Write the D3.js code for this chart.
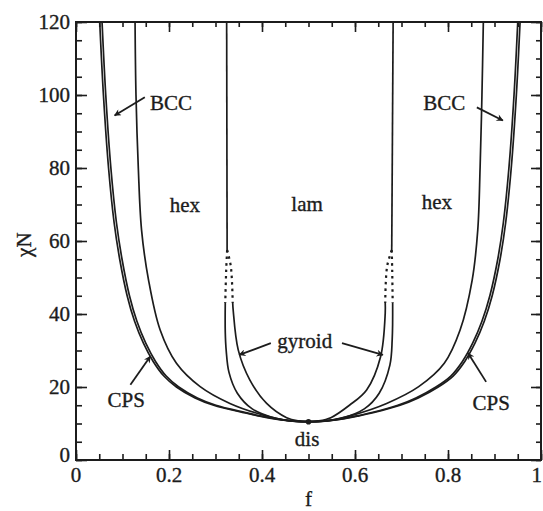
<!DOCTYPE html>
<html>
<head>
<meta charset="utf-8">
<script src="https://cdn.jsdelivr.net/npm/d3@7"></script>
<style>
  html, body { margin: 0; padding: 0; background: #fff; }
  svg { display: block; }
  text { font-family: "Liberation Serif", "Times New Roman", serif; fill: #1c1c1c; stroke: #1c1c1c; stroke-width: 0.35px; }
</style>
</head>
<body>
<svg id="chart" width="543" height="511"></svg>
<script>
// Phase boundaries of a diblock copolymer melt: each boundary is a list of [f, chiN].
const criticalPoint = [0.5, 10.495];

// left half (f < 0.5)
const disCpsLeft = [[0.051,120],[0.059,100],[0.070,80],[0.082,65],[0.094,55],[0.110,45],[0.126,38],[0.145,32],[0.166,27],[0.189,23],[0.216,20],[0.256,17],[0.296,15],[0.360,13],[0.395,12],[0.430,11.2],[0.455,10.8],[0.475,10.6],[0.5,10.495]];
const cpsBccLeft = [[0.056,120],[0.064,100],[0.075,80],[0.087,65],[0.099,55],[0.115,45],[0.131,38],[0.150,32],[0.171,27],[0.194,23],[0.221,20],[0.261,17],[0.301,15],[0.365,13],[0.399,12],[0.433,11.2],[0.457,10.8],[0.476,10.6],[0.5,10.495]];
const bccHexLeft = [[0.127,120],[0.129,100],[0.134,80],[0.141,63],[0.156,49.3],[0.181,35.6],[0.216,26.5],[0.267,20.1],[0.331,15.5],[0.403,12.3],[0.46,10.75],[0.5,10.495]];
const hexLamLeft = [[0.324,120],[0.325,57.5]];
const hexGyrLeftDotted = [[0.325,57.5],[0.323,52],[0.321,43]];
const gyrLamLeftDotted = [[0.325,57.5],[0.333,53],[0.337,43]];
const hexGyrLeft = [[0.321,43],[0.321,35],[0.323,30],[0.329,24],[0.347,18.3],[0.379,14.0],[0.430,11.4],[0.47,10.65],[0.5,10.495]];
const gyrLamLeft = [[0.337,43],[0.338,41.1],[0.349,30.1],[0.374,21.9],[0.410,15.5],[0.453,11.6],[0.48,10.7],[0.5,10.495]];

// right half (f > 0.5)
const disCpsRight = [[0.955,120],[0.947,100],[0.936,80],[0.924,65],[0.912,55],[0.895,45],[0.878,38],[0.858,32],[0.836,27],[0.811,23],[0.779,20],[0.736,17],[0.697,15],[0.641,13],[0.605,12],[0.571,11.2],[0.546,10.8],[0.525,10.6],[0.5,10.495]];
const cpsBccRight = [[0.950,120],[0.942,100],[0.931,80],[0.919,65],[0.907,55],[0.890,45],[0.873,38],[0.853,32],[0.831,27],[0.806,23],[0.774,20],[0.731,17],[0.692,15],[0.636,13],[0.601,12],[0.568,11.2],[0.544,10.8],[0.524,10.6],[0.5,10.495]];
const bccHexRight = [[0.876,120],[0.873,100],[0.869,80],[0.864,63],[0.852,49.3],[0.826,35.6],[0.792,26.5],[0.737,20.1],[0.668,15.5],[0.595,12.3],[0.54,10.75],[0.5,10.495]];
const hexLamRight = [[0.682,120],[0.679,57.5]];
const lamGyrRightDotted = [[0.679,57.5],[0.669,53],[0.665,43]];
const gyrHexRightDotted = [[0.679,57.5],[0.680,52],[0.681,43]];
const lamGyrRight = [[0.665,43],[0.665,40.2],[0.655,28.3],[0.625,19.2],[0.588,15.0],[0.548,11.6],[0.52,10.7],[0.5,10.495]];
const gyrHexRight = [[0.681,43],[0.680,33],[0.675,26],[0.652,18.3],[0.620,14.0],[0.570,11.4],[0.53,10.65],[0.5,10.495]];

const solidBoundaries = [disCpsLeft, cpsBccLeft, bccHexLeft, hexLamLeft, hexGyrLeft, gyrLamLeft,
                         disCpsRight, cpsBccRight, bccHexRight, hexLamRight, lamGyrRight, gyrHexRight];
const dottedBoundaries = [hexGyrLeftDotted, gyrLamLeftDotted, lamGyrRightDotted, gyrHexRightDotted];

// axis ticks
const xMajorTicks = [0, 0.2, 0.4, 0.6, 0.8, 1];
const xTickLabels = ["0", "0.2", "0.4", "0.6", "0.8", "1"];
const xMinorTicks = d3.range(0, 1.0001, 0.05);
const yMajorTicks = [0, 20, 40, 60, 80, 100, 120];
const yTickLabels = ["0", "20", "40", "60", "80", "100", "120"];
const yMinorTicks = d3.range(0, 120.001, 5);

// phase labels: [text, f, chiN]
const phaseLabels = [["hex", 0.234, 68.0], ["lam", 0.497, 68.3], ["hex", 0.776, 68.7],
                     ["gyroid", 0.492, 30.8], ["dis", 0.497, 3.9]];
// labels with arrows: [text, textF, textChiN, anchor, arrowFromF, arrowFromChiN, arrowToF, arrowToChiN]
const arrowLabels = [
  ["BCC", 0.159, 95.9, "start", 0.148, 99.4, 0.083, 94.4],
  ["BCC", 0.747, 95.9, "start", 0.862, 96.6, 0.918, 93.0],
  ["CPS", 0.108, 14.4, "middle", 0.117, 20.6, 0.160, 28.4],
  ["CPS", 0.893, 13.7, "middle", 0.882, 21.4, 0.843, 29.3],
  ["gyroid", null, null, null, 0.419, 32.0, 0.351, 28.8],
  ["gyroid", null, null, null, 0.572, 32.0, 0.660, 28.8]
];

const svg = d3.select("#chart");
const margin = { left: 76, right: 2, top: 22, bottom: 51 };
const W = 543, H = 511;
const x = d3.scaleLinear().domain([0, 1]).range([margin.left, W - margin.right]);
const y = d3.scaleLinear().domain([0, 120]).range([H - margin.bottom, margin.top]);
const ink = "#1c1c1c";

// ticks (all pointing inward)
function drawTicks(axisGen, transform, size, values) {
  const g = svg.append("g").attr("transform", transform)
    .call(axisGen.tickValues(values).tickSize(size).tickFormat(""));
  g.select(".domain").remove();
  g.selectAll("line").attr("stroke", ink).attr("stroke-width", 1.6);
}
const bottomY = y(0), topY = y(120), leftX = x(0), rightX = x(1);
drawTicks(d3.axisBottom(x), `translate(0,${bottomY})`, -6, xMinorTicks);
drawTicks(d3.axisBottom(x), `translate(0,${bottomY})`, -10, xMajorTicks);
drawTicks(d3.axisTop(x), `translate(0,${topY})`, -5, xMinorTicks);
drawTicks(d3.axisTop(x), `translate(0,${topY})`, -10, xMajorTicks);
drawTicks(d3.axisLeft(y), `translate(${leftX},0)`, -6, yMinorTicks);
drawTicks(d3.axisLeft(y), `translate(${leftX},0)`, -11, yMajorTicks);
drawTicks(d3.axisRight(y), `translate(${rightX},0)`, -5, yMinorTicks);
drawTicks(d3.axisRight(y), `translate(${rightX},0)`, -10, yMajorTicks);

// frame
svg.append("rect").attr("x", leftX).attr("y", topY)
  .attr("width", rightX - leftX).attr("height", bottomY - topY)
  .attr("fill", "none").attr("stroke", ink).attr("stroke-width", 2);

// tick labels (the last one sits against the right edge)
svg.append("g").selectAll("text").data(xMajorTicks).join("text")
  .attr("x", d => d === 1 ? W - 1 : x(d)).attr("y", bottomY + 22)
  .attr("text-anchor", d => d === 1 ? "end" : "middle").attr("font-size", 21)
  .text((d, i) => xTickLabels[i]);
svg.append("g").selectAll("text").data(yMajorTicks).join("text")
  .attr("x", leftX - 6).attr("y", d => y(d) + (d === 0 ? 2 : 7))
  .attr("text-anchor", "end").attr("font-size", 21)
  .text((d, i) => yTickLabels[i]);

// axis titles
svg.append("text").attr("x", x(0.5)).attr("y", 506)
  .attr("text-anchor", "middle").attr("font-size", 21).text("f");
svg.append("text").attr("transform", `translate(31,${y(59)}) rotate(-90)`)
  .attr("text-anchor", "middle").attr("font-size", 21).text("χN");

// phase boundaries
const line = d3.line().x(d => x(d[0])).y(d => y(d[1])).curve(d3.curveCatmullRom.alpha(0.5));
svg.append("g").selectAll("path").data(solidBoundaries).join("path")
  .attr("d", line).attr("fill", "none").attr("stroke", ink).attr("stroke-width", 1.7);
svg.append("g").selectAll("path").data(dottedBoundaries).join("path")
  .attr("d", line).attr("fill", "none").attr("stroke", ink).attr("stroke-width", 2.2)
  .attr("stroke-dasharray", "2.5,4");

// critical point
svg.append("circle").attr("cx", x(criticalPoint[0])).attr("cy", y(criticalPoint[1]))
  .attr("r", 2.8).attr("fill", ink);

// labels
svg.append("g").selectAll("text").data(phaseLabels).join("text")
  .attr("x", d => x(d[1])).attr("y", d => y(d[2]))
  .attr("text-anchor", "middle").attr("font-size", 21).text(d => d[0]);

svg.append("defs").append("marker")
  .attr("id", "head").attr("viewBox", "0 0 10 10").attr("refX", 9).attr("refY", 5)
  .attr("markerWidth", 9).attr("markerHeight", 7).attr("markerUnits", "userSpaceOnUse")
  .attr("orient", "auto")
  .append("path").attr("d", "M0,0 L10,5 L0,10 L3,5 Z").attr("fill", ink);

const withText = arrowLabels.filter(d => d[1] !== null);
svg.append("g").selectAll("text").data(withText).join("text")
  .attr("x", d => x(d[1])).attr("y", d => y(d[2]))
  .attr("text-anchor", d => d[3]).attr("font-size", 21).text(d => d[0]);
svg.append("g").selectAll("line").data(arrowLabels).join("line")
  .attr("x1", d => x(d[4])).attr("y1", d => y(d[5]))
  .attr("x2", d => x(d[6])).attr("y2", d => y(d[7]))
  .attr("stroke", ink).attr("stroke-width", 1.8).attr("marker-end", "url(#head)");
</script>
</body>
</html>
